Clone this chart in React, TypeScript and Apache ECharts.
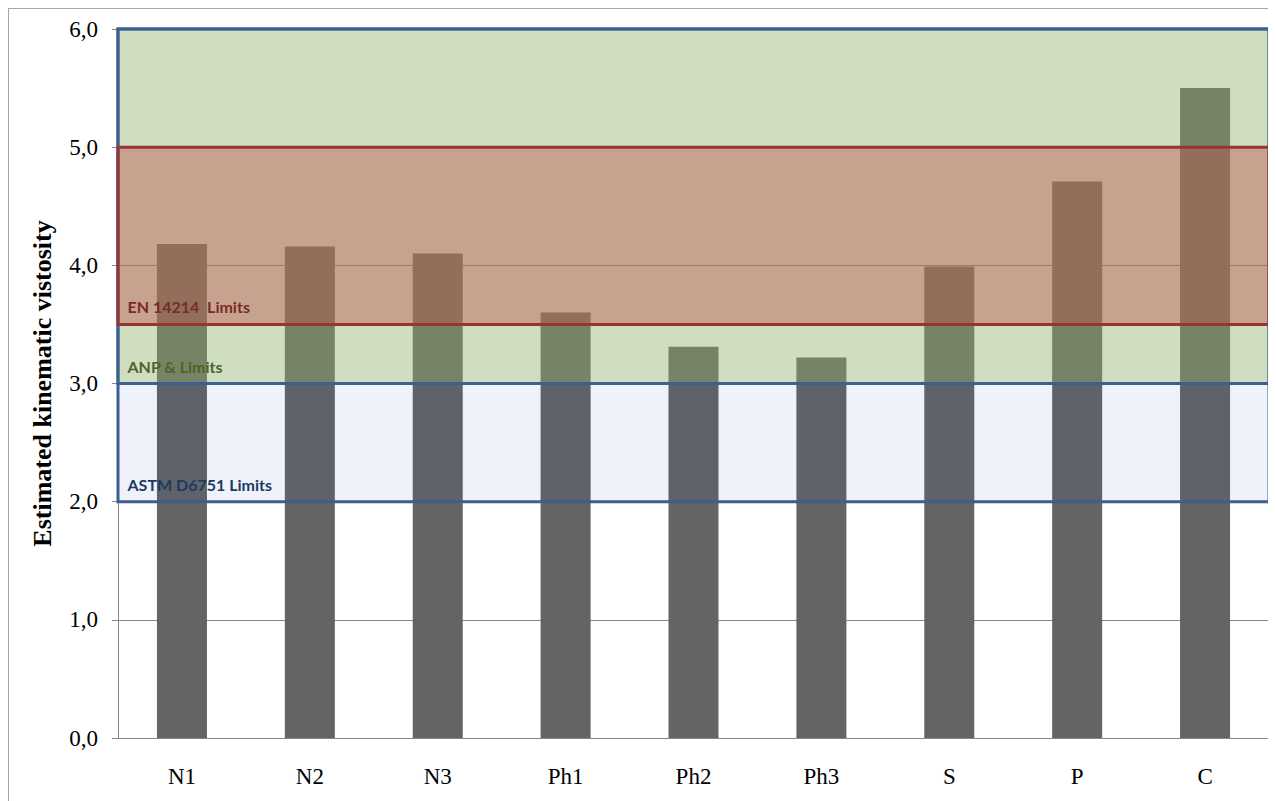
import React, { useEffect, useRef } from "react";
import * as echarts from "echarts";

const categories = ["N1", "N2", "N3", "Ph1", "Ph2", "Ph3", "S", "P", "C"];
const viscosity = [4.18, 4.16, 4.1, 3.6, 3.31, 3.22, 3.99, 4.71, 5.5];
const yTicks = { min: 0, max: 6, interval: 1 };
const limitNames = ["ASTM D6751 Limits", "ANP & Limits", "EN 14214  Limits"];
const limitLow = [2, 3, 3.5];
const limitHigh = [6, 6, 5];
const yTitle = "Estimated kinematic vistosity";
const topLine = "that were used to perform the calculations of the properties.";

export default function App() {
  const ref = useRef<HTMLDivElement>(null);
  useEffect(() => {
    if (!ref.current) return;
    const chart = echarts.init(ref.current, null, { renderer: "svg" });
    const fills = ["rgba(40,85,190,0.075)", "rgba(155,189,90,0.375)", "rgba(190,81,77,0.425)"];
    const borders = ["#3b5f93", "#3b5f93", "#963634"];
    const labelColors = ["#1f3a60", "#4f6228", "#772c2a"];
    chart.setOption({
      animation: false,
      grid: { left: 109, right: 7, top: 20, bottom: 63 },
      xAxis: {
        type: "category",
        data: categories,
        axisTick: { show: false },
        axisLine: { lineStyle: { color: "#868686", width: 1 } },
        axisLabel: { color: "#000", fontFamily: "Liberation Serif", fontSize: 23, margin: 27 },
      },
      yAxis: {
        type: "value",
        min: yTicks.min,
        max: yTicks.max,
        interval: yTicks.interval,
        name: yTitle,
        nameLocation: "middle",
        nameGap: 63,
        nameTextStyle: { color: "#000", fontFamily: "Liberation Serif", fontSize: 26, fontWeight: "bold" },
        axisLine: { show: true, lineStyle: { color: "#868686", width: 1 } },
        axisTick: { show: true, length: 6, lineStyle: { color: "#868686" } },
        splitLine: { lineStyle: { color: "#868686", width: 1 } },
        axisLabel: {
          color: "#000",
          fontFamily: "Liberation Serif",
          fontSize: 23,
          margin: 20,
          formatter: (v: number) => v.toFixed(1).replace(".", ","),
        },
      },
      series: [
        {
          type: "bar",
          data: viscosity,
          barWidth: 50,
          z: 2,
          itemStyle: { color: "#646464" },
          markArea: {
            z: 5,
            silent: true,
            data: limitNames.map((n, i) => [
              {
                name: n,
                yAxis: limitLow[i],
                itemStyle: { color: fills[i], borderColor: borders[i], borderWidth: 3 },
                label: {
                  show: true,
                  position: "insideBottomLeft",
                  distance: 11,
                  color: labelColors[i],
                  fontFamily: "Lato",
                  fontWeight: "bold",
                  fontSize: 16,
                },
              },
              { yAxis: limitHigh[i] },
            ]),
          },
        },
      ],
    });
    return () => chart.dispose();
  }, []);
  return (
    <div style={{ position: "relative" }}>
      <div
        style={{
          position: "absolute",
          top: -25,
          left: 5,
          fontFamily: "Liberation Serif",
          fontSize: 20,
          whiteSpace: "nowrap",
          color: "#000",
        }}
      >
        {topLine}
      </div>
      <div
        style={{
          width: 1268,
          height: 793,
          boxSizing: "border-box",
          borderTop: "1px solid #a6a6a6",
          borderLeft: "1px solid #a6a6a6",
        }}
      >
        <div ref={ref} style={{ width: 1267, height: 792 }} />
      </div>
    </div>
  );
}
